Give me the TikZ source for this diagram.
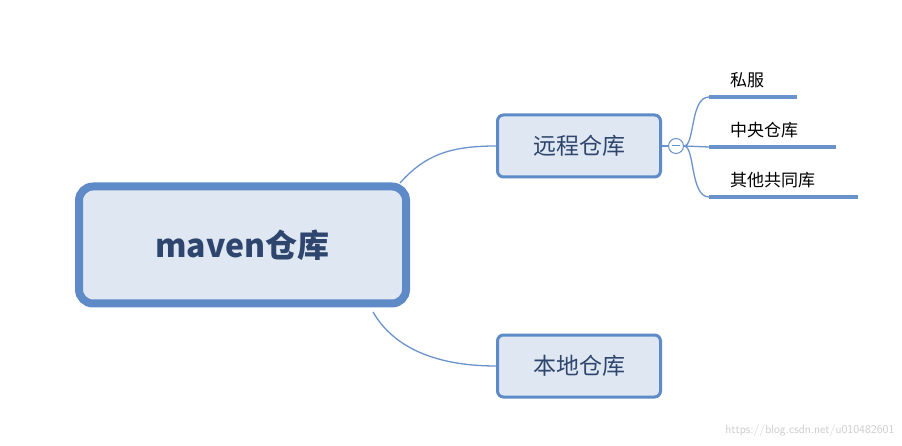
\documentclass[tikz,border=0pt]{standalone}
\usepackage{fontspec}
\setmainfont{Noto Sans CJK SC}
\definecolor{bd}{HTML}{5E8BC8}
\definecolor{fl}{HTML}{DFE7F2}
\definecolor{tx}{HTML}{2E466E}
\definecolor{ln}{HTML}{6A93CC}
\begin{document}
\begin{tikzpicture}[x=1pt,y=-1pt,
  sub/.style={draw=bd,line width=3pt,fill=fl,rounded corners=6pt,minimum width=163pt,minimum height=62pt,text=tx,font=\fontsize{23}{27}\selectfont},
  leaf/.style={anchor=south west,font=\fontsize{17}{20}\selectfont,inner sep=2pt},
  ul/.style={draw=ln,line width=4pt},
  conn/.style={draw=ln,line width=1.3pt}]
\useasboundingbox (0,0) rectangle (902,446);
\node[draw=bd,line width=8pt,fill=fl,rounded corners=14pt,minimum width=327pt,minimum height=117pt,text=tx,font=\fontsize{32}{38}\selectfont\bfseries] (m) at (242.5,245) {maven仓库};
\node[sub] (r) at (579,146) {远程仓库};
\node[sub] (l) at (579,366) {本地仓库};
\coordinate (a1) at (400,183);
\coordinate (a2) at (373,312);
\draw[conn] (a1) .. controls (425,155) and (450,146) .. (r.west);
\draw[conn] (a2) .. controls (395,350) and (440,366) .. (l.west);
\node[draw=ln,line width=1pt,circle,minimum size=15pt,inner sep=0pt,fill=white] (c) at (676,146) {};
\draw[ln,line width=1pt] (672,146) -- (680,146);
\draw[conn] (r.east) -- (c.west);
\coordinate (u1a) at (709,97); \coordinate (u1b) at (797,97);
\coordinate (u2a) at (709,147); \coordinate (u2b) at (836,147);
\coordinate (u3a) at (709,197); \coordinate (u3b) at (858,197);
\draw[ul] (u1a) -- (u1b); \draw[ul] (u2a) -- (u2b); \draw[ul] (u3a) -- (u3b);
\draw[conn] (c.east) .. controls (695,146) and (690,97) .. (u1a);
\draw[conn] (c.east) -- (u2a);
\draw[conn] (c.east) .. controls (695,146) and (690,197) .. (u3a);
\node[leaf] (t1) at (728,90) {私服};
\node[leaf] (t2) at (728,140) {中央仓库};
\node[leaf] (t3) at (728,190) {其他共同库};
\node[anchor=south east,text=gray!40,font=\fontsize{12}{14}\selectfont\sffamily] (w) at (898,440) {https://blog.csdn.net/u010482601};
\end{tikzpicture}
\end{document}
